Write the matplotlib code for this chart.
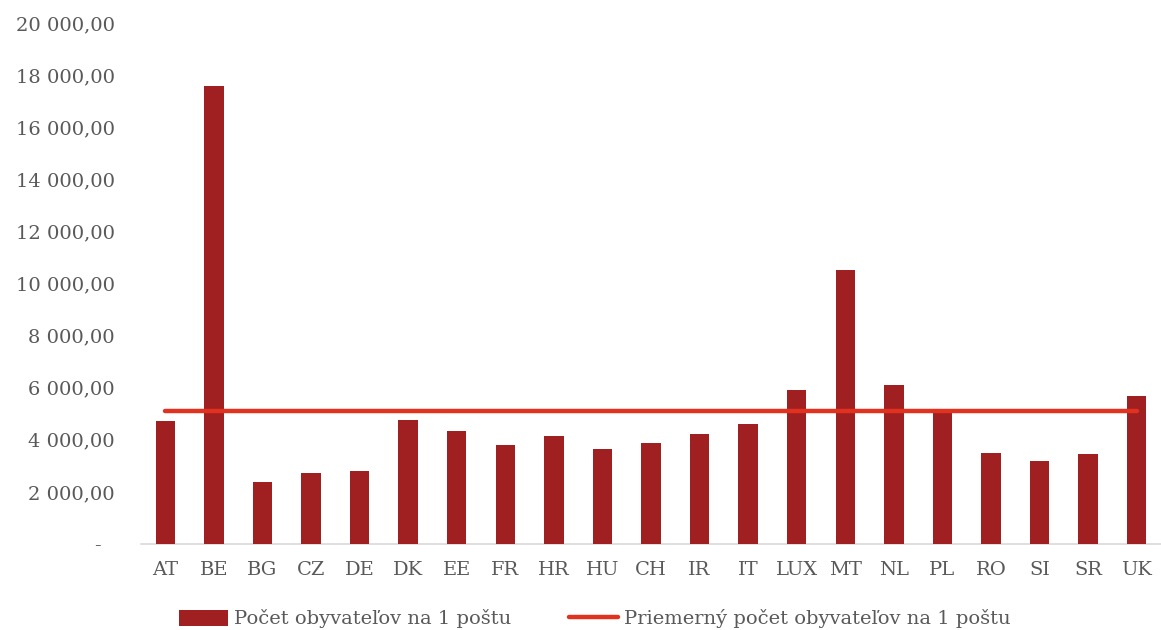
import matplotlib
matplotlib.use("Agg")
import matplotlib.pyplot as plt
from matplotlib.ticker import FuncFormatter, MultipleLocator

categories = ["AT", "BE", "BG", "CZ", "DE", "DK", "EE", "FR", "HR", "HU", "CH",
              "IR", "IT", "LUX", "MT", "NL", "PL", "RO", "SI", "SR", "UK"]
obyvatelia = [4710, 17580, 2370, 2710, 2815, 4760, 4340, 3800, 4150, 3650, 3870,
              4210, 4610, 5900, 10530, 6090, 5060, 3505, 3200, 3445, 5695]
priemer = 5100
series_names = ["Počet obyvateľov na 1 poštu", "Priemerný počet obyvateľov na 1 poštu"]

bar_color = "#A01F21"
line_color = "#E0321F"
text_color = "#595959"
font = ["DejaVu Serif"]

plt.rcParams["font.family"] = font

fig = plt.figure(figsize=(11.61, 6.30), dpi=100)
ax = fig.add_axes([141 / 1161, 1 - 544 / 630, 1 - 141 / 1161, (544 - 23) / 630])

x = list(range(len(categories)))
bars = ax.bar(x, obyvatelia, width=0.40, color=bar_color, label=series_names[0], zorder=2)
line, = ax.plot(x, [priemer] * len(x), color=line_color, lw=3.2, solid_capstyle="round",
                label=series_names[1], zorder=3)

ax.set_xlim(-0.5, len(categories) - 0.5)
ax.set_ylim(0, 20000)
ax.yaxis.set_major_locator(MultipleLocator(2000))


def fmt(v, pos):
    if v == 0:
        return "-  "
    s = f"{v:,.2f}"
    return s.replace(",", " ").replace(".", ",")


ax.yaxis.set_major_formatter(FuncFormatter(fmt))
ax.set_xticks(x)
ax.set_xticklabels(categories)

for s in ["top", "right", "left"]:
    ax.spines[s].set_visible(False)
ax.spines["bottom"].set_color("#D9D9D9")
ax.spines["bottom"].set_linewidth(1.2)
ax.spines["bottom"].set_zorder(1)

ax.tick_params(axis="both", length=0, labelsize=14, colors=text_color)
ax.tick_params(axis="y", pad=19)
ax.tick_params(axis="x", pad=12)

leg = fig.legend([bars, line], series_names, loc="center",
                 bbox_to_anchor=((183 + 1007) / 2 / 1161, 1 - 619 / 630),
                 ncol=2, frameon=False, fontsize=14, handlelength=2.5, handleheight=0.85,
                 handletextpad=0.3, columnspacing=3.0, borderaxespad=0, borderpad=0)
for t in leg.get_texts():
    t.set_color(text_color)

fig.savefig("out.png", dpi=100)
